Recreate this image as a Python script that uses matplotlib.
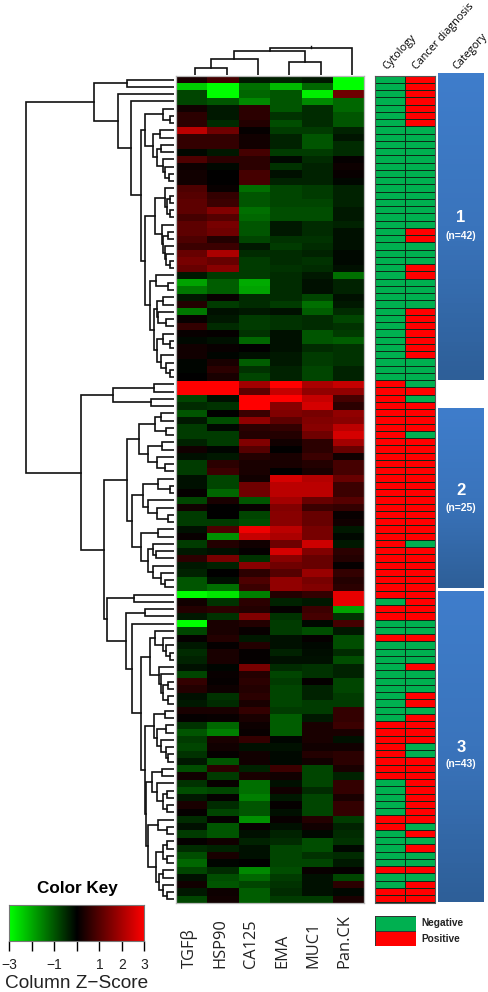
#!/usr/bin/env python3
import numpy as np
import matplotlib
matplotlib.use('Agg')
import matplotlib.pyplot as plt
from matplotlib.colors import LinearSegmentedColormap, ListedColormap

W, H = 489, 992

markers = ['TGFβ', 'HSP90', 'CA125', 'EMA', 'MUC1', 'Pan.CK']

# z-scores, one row per case
zscore = [
    [.3, .8, -.3, -.4, -.3, -3], [-2.4, -3, -1.3, -2.2, -1.2, -3], [-.8, -3, -1.2, -1, -2.8, 1.3],
    [-.8, -1, -1.6, -1, -1.6, -1.2], [.2, -.3, .5, -1, -.5, -1.2], [.5, -.3, .5, -.6, -.5, -1],
    [.5, -.5, .4, -.9, -.5, -1], [2.2, 1.3, .05, -.7, -.7, -.4], [.6, .6, .2, -.4, -1, -.25],
    [.6, .6, .2, -.4, -1, -.5], [-.1, -.3, .8, -.7, -.7, -.5], [.9, .5, .5, -.1, -.5, .05],
    [.15, -.1, .5, -.6, -.4, .15], [.2, 0, .8, -.2, -.4, .1], [.2, 0, .8, -.4, -.4, -.1],
    [.9, .1, -1.3, -.8, -.7, -.4], [1, .6, -1, -.8, -.7, -.4], [1.1, .7, -1, -.8, -.8, -.4],
    [1.1, 1.5, -1.3, -.9, -.9, -.3], [.8, 1, -1.2, -.9, -.9, -.3], [1.1, 1.4, -1, -.3, -.5, -.4],
    [1.1, 1.3, -1, -.3, -.5, -.2], [.9, .4, -.8, -.6, -.6, -.2], [.7, .7, -.3, -.7, -.5, -.2],
    [1.2, 2, -.5, -.5, -.4, -.1], [1.4, 1.2, -.7, -.5, -.6, -.1], [1.2, 1.6, -.7, -.6, -.5, -.2],
    [-.3, -.7, -.7, -.5, -.3, -1.3], [-1.9, -1.1, -2, -.5, -.2, -.4], [-1.4, -1.1, -1.9, -.5, -.2, -.4],
    [-.3, .1, -.5, -.5, -.8, -.2], [.4, -.7, -.5, -.7, -1.3, -.3], [-1.4, -.2, -.3, -.2, -1.1, -.5],
    [.1, -.3, -.7, -.6, -.5, -.8], [.6, -.5, -.7, -.6, -.5, -.6], [.1, .05, -.6, -.2, -1, -.7],
    [-.1, -.2, -1.2, -.2, -1, -1.1], [.2, .1, 0, -.2, -.5, -.6], [.2, -.05, -.2, -.3, -.7, -.6],
    [-.05, .3, -1.1, -.3, -.7, -.6], [-.05, .5, -.6, -.4, -.8, -.4], [0, .3, -.8, -.4, -.8, -.4],
    [3, 3, 1.9, 3, 2, 2.3], [3, 3, 1.1, 2.3, 1.7, 1.7], [-.8, -.2, 3, 3, 2.3, .8],
    [-.5, -.6, 3, 1.6, 2.5, .5], [-1, 0, .7, 1.5, 1.4, 1.7], [-.3, -.9, 1.7, 1.1, 1.5, 1.6],
    [-.7, -.1, .5, .6, 1.6, 2.2], [-.7, -.7, .4, .4, 1.3, 2.5], [-.4, -.7, 1.5, .2, .5, 1.9],
    [.2, -.05, 1, 0, .5, 1.2], [-.2, -.3, .4, .3, .7, .2], [-.7, .5, .3, .3, .4, .8],
    [-.7, .7, .3, 0, .3, .8], [-.2, -.8, .2, 2.5, 2.1, 1.2], [-.2, -.8, 1.3, 2.2, 2.2, .7],
    [.05, -1.2, 1.3, 2.2, 2.2, .7], [-.8, .3, -1, 1.9, 1.2, 1], [.2, 0, .1, 1.5, .7, .6],
    [-.7, 0, -.8, 1.6, 1.2, .1], [-.7, -.7, -.9, 1.6, 1.2, .2], [-.2, .9, 2.8, 2.2, 1.4, -.3],
    [.1, -1.7, 2.3, 2, 1.4, -.1], [-.7, .4, .2, 1.3, 2.4, -.3], [-.3, -.2, .05, 2.5, 1.5, .5],
    [.5, 1.4, -.6, 1.6, 1.2, .4], [-.3, -.4, 1.6, 1.3, 1.2, .05], [-.4, 0, .5, 1, 1.8, .6],
    [-1, -.2, .9, 1.7, 1.4, .4], [-1, -1.3, .7, 1.7, 1.5, .5], [-3, -2.7, -1.5, .4, .6, 2.7],
    [.2, -.6, .5, -.4, -.3, 2.7], [.4, .5, .4, .05, .7, -1.9], [-.3, -.6, 1.5, -.6, .8, -.6],
    [-3, .3, .4, -.7, -.1, .8], [-.8, .3, .1, -.7, -.9, -.3], [.05, .4, -.3, -.2, .05, -.9],
    [-.3, .05, .4, -.2, -.1, -.9], [-.5, .3, .05, -.4, -.15, -.5], [-.4, .3, .05, -.2, -.2, -.9],
    [-.2, -.05, 1.4, -.5, -.6, -.4], [-.8, .1, .4, -.8, -.6, -.4], [.6, .05, .5, -.7, .05, -.8],
    [.4, .15, .4, -.8, -.4, -.8], [-.2, -.6, .5, -.8, -.4, -.7], [-.3, -.5, .3, -.8, -.7, -.7],
    [.3, .3, .6, -.7, -.7, .6], [.05, .1, .3, -1.1, -.3, .6], [-.6, -1.2, .15, -1.1, .3, .7],
    [-1, -1.5, .1, -1.1, .3, .3], [-.7, .3, .6, -.05, .3, -.2], [-.8, .2, -.2, -.2, .2, .2],
    [-.6, .05, .2, -.1, .4, .5], [-.3, -1, .2, -.1, .2, .5], [-.9, .5, -.4, .7, -.8, .3],
    [.2, -.7, .3, .2, -.8, -.4], [-.6, .1, -1.3, -.2, -.8, .6], [-.9, -.8, -1.3, .2, -.5, .6],
    [-.3, .05, -1.5, -.3, -.8, .3], [.3, -.5, -1, .05, -.8, .6], [.05, -.8, -1, -.2, -.8, .6],
    [-.5, .05, -1.7, .1, .4, -.7], [-.2, -1, .1, -.2, .2, -.4], [-.7, -1, -.2, -.4, -.1, -.5],
    [.05, .2, -.4, -.5, -.9, -.6], [-.5, -.4, -.2, -.8, -.9, -.1], [-.9, .3, -.2, -.8, -.6, -.5],
    [-1.2, -.05, 0, -.8, -.8, -.3], [-.8, -.5, -1.6, -.9, .1, .05], [-.2, -.9, -1.2, -.7, -.2, -.8],
    [.2, -1, -.8, -.6, -.2, .5], [-.3, .15, -1.1, -.5, -.2, -.1], [-.8, .2, -1.1, -.7, -.7, .3],
]

# 0 negative, 1 positive
cytology = ([0] * 42 + [1] * 30 + [0] + [1] * 2 + [0] * 2 + [1] + [0] * 11 + [1] * 8
            + [0] * 5 + [1] * 2 + [0] * 5 + [1] + [0] * 2 + [1] * 2)
cancer = ([1] * 7 + [0] * 14 + [1] * 2 + [0] * 3 + [1] * 2 + [0] * 4 + [1] * 7 + [0] * 4
          + [1] + [0] + [1] * 4 + [0] + [1] * 14 + [0] + [1] * 10 + [0] * 2 + [1] + [0] * 3
          + [1] + [0] * 3 + [1] * 2 + [0] + [1] * 4 + [0] * 2 + [1] * 9 + [0] + [1] + [0] + [1]
          + [0] * 2 + [1] + [0] + [1] * 3)

categories = ['1', '2', '3']
category_n = ['(n=42)', '(n=25)', '(n=43)']

key_ticks = [-3, -2, -1, 0, 1, 2, 3]
key_labels = ['−3', '', '−1', '', '1', '2', '3']

# dendrograms as (merge distance, child, child), a plain int is a leaf
col_tree = (27, (24, (16, (7, 0, 1), 2), (13, 3, 4)), 5)

clust_c = (31, (13, 4, (6, 5, 6)),
           (23, (16, 7, 8), (19, (15, 9, 10), (13, 11, (11, 12, (7, 13, 14))))))
clust_d = (31,
           (21, (11, 15, (9, (6, 16, 17), (6, 18, 19))),
            (14, 20, (13, (8, 21, 22), (11, 23, (10, 24, (6, 25, 26)))))),
           (26, (20, 27, (8, 28, 29)),
            (22, (19, (13, 30, 31), (18, 32, (10, 33, 34))),
             (19, (13, 35, (6, 36, 37)), (15, 38, (10, 39, (6, 40, 41)))))))
group_1 = (82, (49, 0, 1), (58, 2, (45, 3, (35, clust_c, clust_d))))

clust_p = (49,
           (37, (21, (15, 46, 47), (10, 48, 49)),
            (28, (14, 50, 51), (19, 52, (11, 53, 54)))),
           (44, (33, (18, 55, (6, 56, 57)), (28, 58, (19, 59, (8, 60, 61)))),
            (35, (18, 62, 63),
             (28, (23, 64, (20, 65, 66)), (23, 67, (15, 68, (11, 69, 70)))))))
clust_r1 = (26,
            (21, 76, (13, 77, (10, 78, (6, 79, 80)))),
            (17, 81, (15, 82, (13, (8, 83, 84), (8, 85, 86)))))
clust_r2 = (31,
            (22, (11, 87, 88), (19, (10, 89, 90), (15, 91, (10, 92, (8, 93, 94))))),
            (30,
             (24, (14, 95, 96), (19, 97, (13, (9, 98, 99), (9, 100, 101)))),
             (28, (18, 102, (9, 103, 104)),
              (20, (13, (9, 105, 106), (9, 107, 108)),
               (17, (13, 109, 110), (13, 111, (9, 112, 113)))))))
clust_q = (69, (42, 71, 72), (50, (31, 73, 74), (44, 75, (35, clust_r1, clust_r2))))
group_23 = (95, (63, (22, 42, 43), (25, 44, 45)), (72, clust_p, clust_q))
row_tree = (150, group_1, group_23)


def add_axes_px(fig, x0, y0, x1, y1):
    # pixel box measured from the top left of the picture
    return fig.add_axes([x0 / W, 1 - y1 / H, (x1 - x0) / W, (y1 - y0) / H])


def draw_tree(ax, node, vertical=False, lw=1.2):
    """draw the elbows of a dendrogram, returns (leaf position, distance)"""
    if isinstance(node, int):
        return node + 0.5, 0
    d, left, right = node
    p1, d1 = draw_tree(ax, left, vertical, lw)
    p2, d2 = draw_tree(ax, right, vertical, lw)
    pos = [p1, p1, p2, p2]
    dist = [d1, d, d, d2]
    if vertical:
        ax.plot(pos, dist, color='#111111', lw=lw, solid_joinstyle='miter')
    else:
        ax.plot(dist, pos, color='#111111', lw=lw, solid_joinstyle='miter')
    return (p1 + p2) / 2, d


plt.rcParams['font.family'] = ['Liberation Sans', 'DejaVu Sans']
fig = plt.figure(figsize=(W / 100, H / 100), dpi=100)

heat_cmap = LinearSegmentedColormap.from_list('gkr', ['#00ff00', '#000000', '#ff0000'])
ann_cmap = ListedColormap(['#00b050', '#ff0000'])

# heatmap
ax = add_axes_px(fig, 176, 76, 364.5, 903)
ax.imshow(np.array(zscore), cmap=heat_cmap, vmin=-3, vmax=3, aspect='auto', interpolation='nearest')
ax.set_xticks([])
ax.set_yticks([])
for s in ax.spines.values():
    s.set_color('#b8b8b8')
    s.set_linewidth(0.9)

# row dendrogram, stops just short of the heatmap
ax = add_axes_px(fig, 0, 76, 174, 903)
draw_tree(ax, row_tree)
ax.set_xlim(176, 2)
ax.set_ylim(len(zscore), 0)
ax.axis('off')

# column dendrogram, sits a little right of the heatmap columns
ax = add_axes_px(fig, 179.5, 40, 368, 75)
root_pos, root_d = draw_tree(ax, col_tree, vertical=True)
ax.plot([root_pos, root_pos], [root_d, root_d + 2], color='#111111', lw=1.0)
ax.set_xlim(0, len(markers))
ax.set_ylim(0, 35)
ax.axis('off')

# annotation columns
ax = add_axes_px(fig, 375, 75.5, 434.5, 902.5)
ann = np.array([cytology, cancer]).T
ax.pcolormesh(ann, cmap=ann_cmap, vmin=0, vmax=1, edgecolors='#0d2a18', linewidth=0.45)
ax.set_xlim(0, 2)
ax.set_ylim(len(ann), 0)
ax.set_xticks([])
ax.set_yticks([])
for s in ax.spines.values():
    s.set_color('#555555')
    s.set_linewidth(0.8)

# category bars
cat_boxes = [(73, 380), (408, 588), (591, 902)]
cat_text = [(218, 236), (491, 508), (748, 764)]
blue = LinearSegmentedColormap.from_list('blue', ['#3f7dcb', '#3a74bc', '#2e5f98'])
for (y0, y1), (t0, t1), c, n in zip(cat_boxes, cat_text, categories, category_n):
    ax = add_axes_px(fig, 438, y0, 483.5, y1)
    ax.imshow(np.linspace(0, 1, 64)[:, None], cmap=blue, aspect='auto')
    ax.axis('off')
    fig.text(461 / W, 1 - t0 / H, c, color='white', fontsize=12, fontweight='bold', ha='center', va='center')
    fig.text(461 / W, 1 - t1 / H, n, color='white', fontsize=7.5, fontweight='bold', ha='center', va='center')

# top labels
top_labels = ['Cytology', 'Cancer diagnosis', 'Category']
top_x = [387, 417, 457]
for x, t in zip(top_x, top_labels):
    fig.text(x / W, 1 - 70 / H, t, rotation=48, rotation_mode='anchor', ha='left', va='baseline',
             fontsize=7.8, family=['Open Sans', 'DejaVu Sans'], color='#000000')

# marker labels
label_x = [189, 220, 251, 282, 313, 344]
for x, t in zip(label_x, markers):
    fig.text(x / W, 1 - 968 / H, t, rotation=90, ha='center', va='bottom', fontsize=11.8,
             family=['Open Sans', 'DejaVu Sans'], color='#222222')

# annotation legend
ax = add_axes_px(fig, 375, 916, 416, 946)
ax.pcolormesh(np.array([[0], [1]]), cmap=ann_cmap, vmin=0, vmax=1, edgecolors='#333333', linewidth=0.7)
ax.set_ylim(2, 0)
ax.axis('off')
fig.text(421 / W, 1 - 923 / H, 'Negative', fontsize=7.3, fontweight='bold', va='center', color='#222222')
fig.text(421 / W, 1 - 939 / H, 'Positive', fontsize=7.3, fontweight='bold', va='center', color='#222222')

# color key
ax = add_axes_px(fig, 9, 904.5, 144.5, 941)
ax.imshow(np.linspace(-3, 3, 256)[None, :], cmap=heat_cmap, vmin=-3, vmax=3, aspect='auto',
          extent=[-3, 3, 0, 1])
ax.set_yticks([])
ax.set_xticks(key_ticks)
ax.set_xticklabels(key_labels, fontsize=10, color='#222222')
ax.tick_params(axis='x', length=7, width=1.0, pad=5)
for s in ax.spines.values():
    s.set_color('#777777')
    s.set_linewidth(0.8)
fig.text(77 / W, 1 - 888 / H, 'Color Key', fontsize=12.3, fontweight='bold', ha='center', va='center')
fig.text(76.5 / W, 1 - 983 / H, 'Column Z−Score', fontsize=13.7, ha='center', va='center', color='#222222')

fig.savefig('out.png', dpi=100)
